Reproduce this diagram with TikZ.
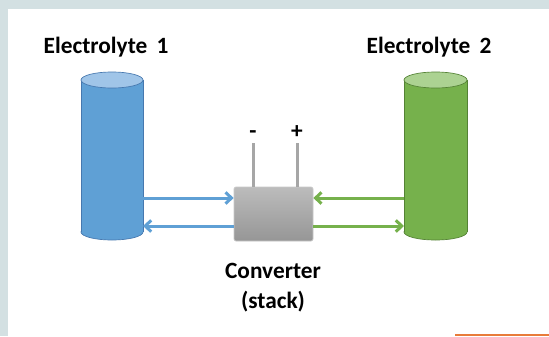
\documentclass[tikz,border=0pt]{standalone}
\usepackage{fontspec}
\setmainfont{Carlito}
\usetikzlibrary{arrows.meta}

\definecolor{frameBg}{RGB}{211,224,226}
\definecolor{elOneFill}{RGB}{95,160,213}
\definecolor{elOneTop}{RGB}{160,197,232}
\definecolor{elOneEdge}{RGB}{70,120,175}
\definecolor{elTwoFill}{RGB}{118,177,76}
\definecolor{elTwoTop}{RGB}{172,210,146}
\definecolor{elTwoEdge}{RGB}{84,130,53}
\definecolor{convTop}{RGB}{188,188,188}
\definecolor{convBot}{RGB}{150,150,150}
\definecolor{pinGray}{RGB}{166,166,166}
\definecolor{stripeOrange}{RGB}{232,123,58}

\tikzset{every picture/.style={line width=0.75pt}}
\tikzset{
  lbl/.style={anchor=base,inner sep=0.75pt,font=\fontsize{17.5}{21}\selectfont\bfseries},
  convbox/.style={rectangle,rounded corners=1.5pt,draw=convTop!80!white,line width=0.5pt,
    top color=convTop,bottom color=convBot,minimum width=59.25pt,minimum height=40.5pt,inner sep=0pt},
  pin/.style={draw=pinGray,line width=2.25pt},
  flowone/.style={draw=elOneFill,line width=2.25pt,-{Straight Barb[length=4.5pt,width=8.5pt]}},
  flowtwo/.style={draw=elTwoFill,line width=2.25pt,-{Straight Barb[length=4.5pt,width=8.5pt]}}
}

\begin{document}
\begin{tikzpicture}[x=0.75pt,y=0.75pt,yscale=-1,xscale=1]
			\useasboundingbox (0,0) rectangle (549,336);
			
			%Shape: Frame
			\fill [frameBg] (0,0) rectangle (549,336);
			\fill [white] (8,9) rectangle (549,336);
			\fill [stripeOrange] (455,334) rectangle (549,336);
			
			%Shape: Cylinder [Electrolyte 1]
			\draw [elOneEdge,fill=elOneFill,line width=0.5pt] (112,232) ellipse (31 and 8);
			\fill [elOneFill] (81,80) rectangle (143,232);
			\draw [elOneEdge,line width=0.5pt] (81,80) -- (81,232) (143,80) -- (143,232);
			\draw [elOneEdge,fill=elOneTop,line width=0.5pt] (112,80) ellipse (31 and 8);
			
			%Shape: Cylinder [Electrolyte 2]
			\draw [elTwoEdge,fill=elTwoFill,line width=0.5pt] (435.5,232) ellipse (31.5 and 8);
			\fill [elTwoFill] (404,80) rectangle (467,232);
			\draw [elTwoEdge,line width=0.5pt] (404,80) -- (404,232) (467,80) -- (467,232);
			\draw [elTwoEdge,fill=elTwoTop,line width=0.5pt] (435.5,80) ellipse (31.5 and 8);
			
			%Shape: Converter
			\node (conv) [convbox] at (273.5,214) {};
			
			%Straight Lines [terminals]
			\coordinate (tneg) at (253,143);
			\coordinate (tpos) at (297,143);
			\draw [pin] (tneg) -- (tneg |- conv.north);
			\draw [pin] (tpos) -- (tpos |- conv.north);
			
			%Straight Lines [flows]
			\coordinate (oneOut) at (143,198);
			\coordinate (oneIn) at (143,226);
			\coordinate (twoOut) at (404,198);
			\coordinate (twoIn) at (404,226);
			\draw [flowone] (oneOut) -- (oneOut -| conv.west);
			\draw [flowone] (oneIn -| conv.west) -- (oneIn);
			\draw [flowtwo] (twoOut) -- (twoOut -| conv.east);
			\draw [flowtwo] (twoIn -| conv.east) -- (twoIn);
			
			% Text Node
			\node (elOne) [lbl] at (106,53) {Electrolyte\ \,1};
			% Text Node
			\node (elTwo) [lbl] at (429,53) {Electrolyte\ \,2};
			% Text Node
			\node (neg) [lbl] at (253,138) {-};
			% Text Node
			\node (pos) [lbl] at (297,138) {+};
			% Text Node
			\node (convName) [lbl] at (273,278) {Converter};
			% Text Node
			\node (convSub) [lbl] at (273,308) {(stack)};
			
		\end{tikzpicture}
\end{document}
